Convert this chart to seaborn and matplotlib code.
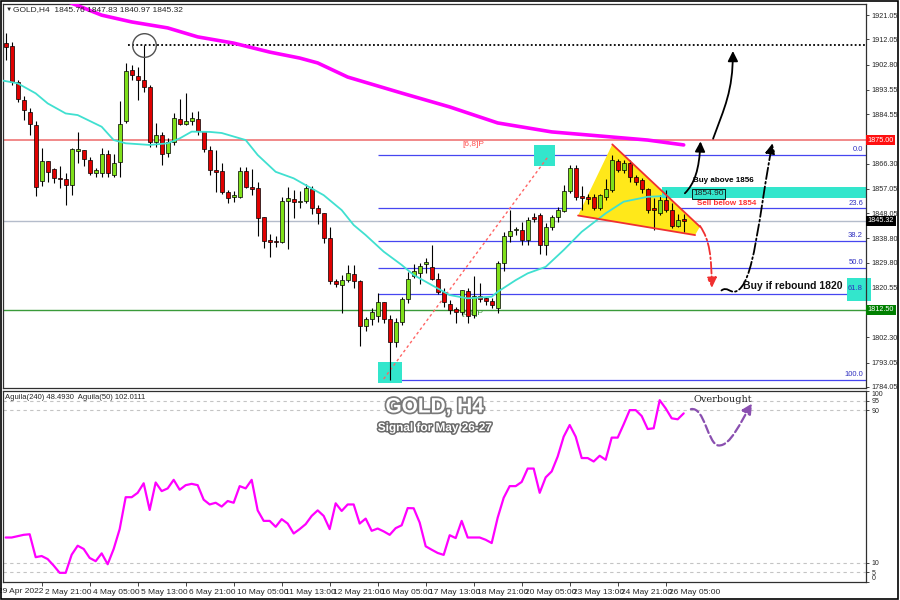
import numpy as np
import pandas as pd
import matplotlib
matplotlib.use("Agg")
import matplotlib.pyplot as plt
import matplotlib.patheffects as pe
import matplotlib.transforms as mtransforms
from matplotlib.patches import Polygon, Rectangle, FancyArrowPatch
from matplotlib.path import Path
import seaborn as sns

# --- свечи GOLD H4 (29 Apr - 26 May 2022) ---
opens = [
    1910.6, 1909.7, 1896.5, 1889.7, 1885.4, 1880.5, 1859.8, 1867.2, 1864.4, 1860.9,
    1860.5, 1858.4, 1870.8, 1871.4, 1867.6, 1862.7, 1862.7, 1869.7, 1862.2, 1866.8,
    1882.1, 1900.8, 1898.7, 1897.1, 1894.7, 1874.4, 1876.8, 1870.1, 1874.4, 1882.9,
    1880.8, 1882.1, 1882.8, 1878.3, 1871.3, 1864.0, 1863.6, 1856.0, 1854.2, 1854.1,
    1863.6, 1857.8, 1857.2, 1846.8, 1838.2, 1837.8, 1837.6, 1852.5, 1853.3, 1852.1,
    1852.5, 1856.9, 1850.1, 1848.0, 1839.0, 1823.1, 1821.6, 1823.4, 1825.6, 1823.1,
    1806.6, 1809.1, 1810.3, 1815.3, 1809.1, 1800.5, 1807.9, 1816.5, 1825.0, 1826.2,
    1829.5, 1828.3, 1824.0, 1819.1, 1814.5, 1812.6, 1811.5, 1819.5, 1810.6, 1817.7,
    1816.7, 1815.7, 1813.2, 1829.6, 1839.8, 1841.9, 1841.9, 1838.2, 1846.6, 1847.4,
    1836.4, 1843.1, 1846.5, 1849.0, 1856.3, 1864.6, 1854.4, 1854.0, 1854.1, 1849.8,
    1854.1, 1856.6, 1867.2, 1864.0, 1866.4, 1861.5, 1860.3, 1856.9, 1849.9, 1848.0,
    1853.1, 1849.2, 1843.4, 1845.76]
highs = [
    1914.4, 1911.2, 1897.1, 1891.3, 1886.7, 1882.0, 1871.9, 1867.3, 1864.7, 1865.3,
    1862.9, 1872.2, 1878.0, 1871.5, 1868.8, 1864.7, 1872.0, 1871.3, 1870.0, 1889.4,
    1903.3, 1902.6, 1902.0, 1910.0, 1895.3, 1881.2, 1878.0, 1875.7, 1884.8, 1890.0,
    1892.3, 1885.3, 1885.7, 1878.4, 1872.9, 1871.3, 1866.4, 1856.6, 1856.2, 1865.2,
    1865.2, 1864.3, 1859.7, 1846.8, 1840.3, 1839.7, 1854.1, 1857.8, 1856.6, 1856.2,
    1858.7, 1858.2, 1851.1, 1848.0, 1843.1, 1823.8, 1825.3, 1829.0, 1829.0, 1823.4,
    1809.9, 1813.0, 1818.5, 1815.3, 1810.6, 1809.4, 1817.3, 1826.5, 1829.3, 1829.6,
    1831.5, 1836.4, 1825.9, 1820.4, 1816.1, 1813.6, 1819.8, 1820.4, 1825.0, 1822.2,
    1817.3, 1816.7, 1830.5, 1841.2, 1849.2, 1843.1, 1844.9, 1846.7, 1848.0, 1848.0,
    1844.4, 1847.4, 1850.5, 1858.4, 1865.8, 1865.8, 1857.9, 1855.0, 1855.3, 1855.3,
    1860.8, 1869.5, 1868.2, 1867.6, 1867.6, 1862.2, 1860.9, 1857.2, 1853.5, 1854.7,
    1856.6, 1851.7, 1847.8, 1847.83]
lows = [
    1904.5, 1895.2, 1889.0, 1882.4, 1876.8, 1854.3, 1858.0, 1859.7, 1859.2, 1857.4,
    1851.0, 1854.8, 1866.4, 1865.3, 1862.1, 1861.5, 1861.5, 1861.5, 1861.5, 1861.5,
    1881.2, 1897.1, 1889.7, 1892.8, 1872.6, 1872.6, 1865.8, 1868.8, 1873.2, 1880.5,
    1880.5, 1880.5, 1876.8, 1870.7, 1862.1, 1856.0, 1855.0, 1851.7, 1852.3, 1853.5,
    1857.2, 1854.8, 1839.8, 1835.1, 1832.0, 1835.7, 1837.0, 1834.9, 1846.4, 1850.1,
    1851.7, 1847.6, 1844.0, 1836.9, 1821.9, 1821.0, 1811.2, 1822.8, 1820.4, 1799.3,
    1804.7, 1806.9, 1808.1, 1807.5, 1786.8, 1798.9, 1806.9, 1814.9, 1824.3, 1821.9,
    1826.0, 1823.4, 1818.2, 1813.6, 1810.8, 1807.7, 1810.6, 1807.5, 1809.4, 1815.5,
    1814.2, 1813.0, 1811.2, 1826.6, 1837.6, 1840.0, 1836.4, 1836.4, 1845.0, 1833.0,
    1832.7, 1842.0, 1844.7, 1848.6, 1855.4, 1852.9, 1849.2, 1851.5, 1849.2, 1849.2,
    1852.9, 1856.0, 1863.4, 1862.7, 1859.7, 1858.5, 1855.4, 1848.0, 1841.9, 1847.4,
    1848.6, 1842.5, 1842.9, 1840.97]
closes = [
    1909.4, 1896.2, 1890.1, 1886.0, 1880.8, 1857.8, 1867.2, 1863.4, 1860.9, 1860.6,
    1858.3, 1871.6, 1871.6, 1868.2, 1862.7, 1864.0, 1869.7, 1862.7, 1866.7, 1880.8,
    1900.4, 1899.0, 1897.1, 1894.7, 1874.4, 1876.8, 1869.7, 1874.1, 1883.0, 1880.8,
    1882.1, 1883.2, 1878.3, 1871.7, 1864.0, 1863.1, 1856.0, 1853.5, 1854.8, 1863.6,
    1857.6, 1857.1, 1846.4, 1837.8, 1837.4, 1837.4, 1852.5, 1853.5, 1852.1, 1852.6,
    1857.2, 1850.1, 1848.0, 1839.0, 1823.1, 1821.9, 1823.4, 1825.9, 1823.1, 1806.6,
    1809.1, 1811.8, 1815.3, 1809.1, 1800.5, 1807.9, 1816.5, 1824.0, 1826.7, 1828.7,
    1829.9, 1824.0, 1819.1, 1815.2, 1812.4, 1811.5, 1819.8, 1810.2, 1817.7, 1816.5,
    1815.7, 1814.2, 1829.6, 1839.8, 1841.5, 1842.2, 1838.2, 1845.5, 1845.9, 1836.4,
    1843.1, 1846.5, 1849.2, 1856.3, 1864.6, 1854.2, 1853.6, 1853.2, 1849.8, 1854.7,
    1856.8, 1867.6, 1864.0, 1866.4, 1861.5, 1859.7, 1856.9, 1849.2, 1849.2, 1852.9,
    1849.2, 1843.4, 1845.7, 1845.32]

# индикатор Aguila (нижняя панель)
aguila = [
    23.3, 23.3, 24.0, 24.7, 25.0, 13.0, 13.6, 12.0, 8.6, 4.8,
    4.8, 14.3, 19.0, 17.3, 12.6, 10.9, 15.0, 9.3, 17.3, 27.7,
    44.4, 44.4, 46.7, 51.7, 37.7, 52.1, 47.6, 49.0, 53.5, 48.3,
    50.7, 51.4, 50.7, 43.1, 40.6, 41.5, 39.5, 42.4, 41.5, 50.2,
    49.0, 53.5, 37.5, 32.0, 32.0, 28.9, 32.9, 30.6, 25.4, 27.7,
    30.3, 34.6, 37.5, 34.6, 27.7, 41.2, 37.2, 40.6, 40.6, 30.6,
    33.2, 26.8, 28.0, 26.5, 24.7, 28.2, 29.7, 38.7, 38.6, 31.1,
    18.7, 16.9, 15.2, 14.2, 24.5, 23.0, 32.0, 23.3, 23.3, 23.3,
    22.1, 20.4, 33.7, 44.1, 50.2, 50.2, 52.4, 59.4, 59.4, 46.7,
    54.8, 57.9, 65.7, 76.1, 82.2, 76.1, 64.9, 64.9, 63.1, 66.1,
    64.0, 75.6, 75.6, 82.6, 90.0, 90.0, 86.9, 80.1, 80.5, 95.2,
    90.9, 85.7, 85.2, 88.3]

# скользящие средние
ma200_bar = [6, 16, 21, 27, 32, 38, 44, 49, 52, 57, 66, 74, 82, 91, 99, 107, 113]
ma200_val = [1929.8, 1921.0, 1918.5, 1916.3, 1913.0, 1910.7, 1907.4, 1905.2, 1903.4,
             1898.2, 1892.3, 1887.2, 1881.3, 1878.0, 1876.5, 1875.0, 1873.2]
ma20_bar = [-1, 2, 5, 7, 10, 12, 16, 18, 20, 24, 27, 29, 31, 34, 36, 40, 42, 45, 48, 50,
            53, 56, 58, 60, 63, 66, 68, 71, 74, 77, 81, 82, 85, 87, 90, 93, 96, 100,
            103, 107, 110]
ma20_val = [1897.1, 1895.9, 1892.2, 1888.5, 1884.8, 1884.2, 1879.9, 1875.0, 1873.8,
            1873.2, 1873.8, 1875.6, 1878.1, 1878.0, 1877.6, 1875.0, 1869.5, 1863.3,
            1860.9, 1858.4, 1854.7, 1849.2, 1843.7, 1840.0, 1833.9, 1829.0, 1825.3,
            1821.6, 1817.9, 1816.7, 1817.3, 1819.1, 1823.4, 1825.9, 1828.3, 1834.5,
            1841.2, 1848.0, 1852.3, 1854.1, 1854.4]

# уровни
fib_names = ["0.0", "23.6", "38.2", "50.0", "61.8", "100.0"]
fib_prices = [1869.5, 1849.9, 1837.8, 1828.05, 1818.3, 1786.6]
resist_level = 1875.00
support_level = 1812.50
buy_box = (1853.6, 1857.7)

price_ticks = [1921.05, 1912.05, 1902.80, 1893.55, 1884.55, 1866.30, 1857.05,
               1848.05, 1838.80, 1829.80, 1820.55, 1802.30, 1793.05, 1784.05]
time_ticks = [6, 14, 22, 30, 38, 46, 54, 62, 70, 78, 86, 94, 102, 110]
time_labels = ["2 May 21:00", "4 May 05:00", "5 May 13:00", "6 May 21:00",
               "10 May 05:00", "11 May 13:00", "12 May 21:00", "16 May 05:00",
               "17 May 13:00", "18 May 21:00", "20 May 05:00", "23 May 13:00",
               "24 May 21:00", "26 May 05:00"]

df = pd.DataFrame({"open": opens, "high": highs, "low": lows, "close": closes,
                   "aguila": aguila})
df["bar"] = np.arange(len(df))

RED = "#E00000"
GREEN = "#7FE01A"
CYAN = "#33E6CC"
FIB = "#4646F0"

sns.set_style("white")
plt.rcParams["font.family"] = ["Liberation Sans", "DejaVu Sans"]

fig = plt.figure(figsize=(9, 6), dpi=100)
ax = fig.add_axes([0.0033, 0.3533, 0.9589, 0.64])
ax2 = fig.add_axes([0.0033, 0.03, 0.9589, 0.3183])
xmin, xmax = -0.45, 143.38

# --- верхняя панель ---
ax.set_xlim(xmin, xmax)
ax.set_ylim(1783.67, 1925.1)

ax.hlines(resist_level, xmin, xmax, colors="#F08080", lw=1.3, zorder=1)
ax.hlines(df["close"].iloc[-1], xmin, xmax, colors="#B4BCCB", lw=1.0, zorder=1)
ax.hlines(support_level, xmin, xmax, colors="#3A9A3A", lw=1.0, zorder=1)
ax.hlines(fib_prices, 62, xmax, colors=FIB, lw=0.9, zorder=1)
for name, p in zip(fib_names, fib_prices):
    ax.text(xmax - 0.5, p + 0.6, name, ha="right", va="bottom", fontsize=5.5,
            color="#3030C0", zorder=6)

swing_high = df["high"].iloc[23]
ax.hlines(swing_high, 20.4, xmax, colors="black", linestyles=(0, (1, 1.3)), lw=1.3, zorder=2)
ax.plot(23, swing_high, marker="o", ms=17, mfc="none", mec="#505050", mew=1.0, zorder=6)

# бирюзовые зоны
ax.add_patch(Rectangle((62.1, 1785.5), 4.0, 7.7, fc=CYAN, ec="none", zorder=2))
ax.add_patch(Rectangle((88.1, 1865.4), 3.5, 7.8, fc=CYAN, ec="none", zorder=2))
ax.add_patch(Rectangle((109.4, buy_box[0]), xmax - 109.4, buy_box[1] - buy_box[0],
                       fc=CYAN, ec="none", zorder=2))
ax.add_patch(Rectangle((140.2, 1815.7), 4.0, 8.5, fc=CYAN, ec="none", zorder=2,
                       clip_on=False))

# линия фибо-тренда
ax.plot([63, 90.5], [1787.0, 1869.2], color="#FF6464", ls=(0, (2, 2)), lw=1.0, zorder=2)

# вымпел
tri = [(95.4, 1847.2), (101.1, 1873.4), (115.7, 1843.1), (114.9, 1840.0)]
ax.add_patch(Polygon(tri, closed=True, fc="#FFE81A", ec="none", zorder=1.5))
ax.plot([101.1, 115.7], [1873.4, 1843.1], color="#F03030", lw=1.3, zorder=5)
ax.plot([95.4, 114.9], [1847.2, 1840.0], color="#F03030", lw=1.3, zorder=5)

# свечи
up = df["close"] >= df["open"]
ax.vlines(df["bar"], df["low"], df["high"], color="black", lw=0.8, zorder=3)
body_low = df[["open", "close"]].min(axis=1)
body_h = (df["close"] - df["open"]).abs().clip(lower=0.35)
ax.bar(df["bar"], body_h, bottom=body_low, width=0.64,
       color=np.where(up, GREEN, RED), edgecolor="black", linewidth=0.5, zorder=3.5)

# средние
sns.lineplot(x=ma200_bar, y=ma200_val, ax=ax, color="#FF00FF", linewidth=2.6, zorder=4)
sns.lineplot(x=ma20_bar, y=ma20_val, ax=ax, color="#40E0D0", linewidth=1.3, zorder=4)

ax.text(76.1, 1873.2, "[6,8]P", fontsize=6, color="#FF5050", va="center", zorder=6)
ax.text(76.0, 1811.3, "[6,8]P", fontsize=6, color="#3A9A3A", va="center", zorder=2.5)


def curve_arrow(a, pts, color, ls, lw=1.3):
    codes = [Path.MOVETO] + [Path.CURVE4] * (len(pts) - 1)
    arr = FancyArrowPatch(path=Path(pts, codes),
                          arrowstyle="-|>,head_length=0.6,head_width=0.3",
                          mutation_scale=10, color=color, lw=lw, linestyle=ls,
                          zorder=7, clip_on=False)
    a.add_patch(arr)


curve_arrow(ax, [(113.2, 1855.4), (114.8, 1859.0), (115.6, 1864.0), (115.8, 1874.5)],
            "black", "-")
curve_arrow(ax, [(117.9, 1875.5), (119.8, 1887.0), (121.2, 1893.0), (121.2, 1907.8)],
            "black", "-")
curve_arrow(ax, [(119.3, 1819.6), (120.2, 1821.2), (120.8, 1818.6), (121.6, 1819.2),
                 (124.8, 1821.0), (125.5, 1848.0), (127.8, 1873.8)], "black", "-.")
curve_arrow(ax, [(115.7, 1843.4), (117.4, 1838.0), (117.6, 1832.0), (117.7, 1820.6)],
            "#F03030", "-.")

ax.text(114.6, 1858.8, "Buy above 1856", fontsize=5.8, fontweight="bold", va="bottom",
        color="black", zorder=8)
ax.text(114.6, 1855.2, "1854.90", fontsize=6, va="center", color="#202020", zorder=8,
        bbox=dict(boxstyle="square,pad=0.15", fc=CYAN, ec="black", lw=0.6))
ax.text(115.3, 1851.6, "Sell below 1854", fontsize=5.8, fontweight="bold", va="center",
        color="#FF3030", zorder=8)
ax.text(122.9, 1821.3, "Buy if rebound 1820", fontsize=7.5, fontweight="bold",
        va="center", color="#111111", zorder=8)

ax.text(0.003, 0.993, "\u25BC", transform=ax.transAxes, fontsize=4.5, va="top")
ax.text(0.012, 0.995, "GOLD,H4  1845.76 1847.83 1840.97 1845.32",
        transform=ax.transAxes, fontsize=6, va="top", zorder=8)

ax.set_xticks([])
ax.yaxis.tick_right()
ax.set_yticks(price_ticks)
ax.set_yticklabels([f"{p:.2f}" for p in price_ticks])
ax.tick_params(axis="y", length=2.5, width=0.6, pad=1.5, labelsize=5.2, right=True)
ax.set_xlabel("")
ax.set_ylabel("")


def price_tag(a, y, text, fc):
    a.text(1.002, y, text, transform=a.get_yaxis_transform(), ha="left", va="center",
           fontsize=5.2, color="white", zorder=10, clip_on=False,
           bbox=dict(boxstyle="square,pad=0.2", fc=fc, ec="none"))


price_tag(ax, resist_level, "1875.00", "#FF1010")
price_tag(ax, df["close"].iloc[-1], "1845.32", "black")
price_tag(ax, support_level, "1812.50", "#008000")

# --- нижняя панель ---
ax2.set_xlim(xmin, xmax)
ax2.set_ylim(0, 100)
for lvl in [95, 90, 10, 5]:
    ax2.axhline(lvl, color="#C4C4C4", ls=(0, (3, 3)), lw=0.8, zorder=1)
sns.lineplot(data=df, x="bar", y="aguila", ax=ax2, color="#FF00FF", linewidth=1.6,
             zorder=3)
curve_arrow(ax2, [(114.2, 90.5), (116.5, 92.0), (117.0, 72.0), (118.8, 71.5),
                  (120.8, 71.0), (122.5, 84.0), (124.4, 93.5)], "#8A4FB0", "--", lw=1.6)
ax2.text(119.6, 95.5, "Overbought", fontsize=7, family="DejaVu Serif", ha="center",
         va="center", zorder=8)
ax2.text(0.002, 0.985, "Aguila(240) 48.4930  Aguila(50) 102.0111",
         transform=ax2.transAxes, fontsize=5.5, va="top")

ax2.yaxis.tick_right()
ax2.set_yticks([100, 95, 90, 10, 5, 0])
ax2.set_yticklabels(["100", "95", "90", "10", "5", "0"])
ax2.tick_params(axis="y", length=2.5, width=0.6, pad=1.5, labelsize=5, right=True)
ylbls = ax2.get_yticklabels()
ylbls[0].set_verticalalignment("top")
ylbls[-1].set_verticalalignment("bottom")

ax2.set_xticks(time_ticks)
ax2.set_xticklabels(time_labels)
ax2.tick_params(axis="x", length=3, width=0.6, pad=2, labelsize=6, bottom=True)
offset = mtransforms.ScaledTranslation(3 / 100, 0, fig.dpi_scale_trans)
for lbl in ax2.get_xticklabels():
    lbl.set_horizontalalignment("left")
    lbl.set_transform(lbl.get_transform() + offset)
ax2.text(-1.3, -0.03, "29 Apr 2022", transform=ax2.get_xaxis_transform(), fontsize=6,
         ha="left", va="top")
ax2.set_xlabel("")
ax2.set_ylabel("")

for a in (ax, ax2):
    for s in a.spines.values():
        s.set_color("#303030")
        s.set_linewidth(0.9)

# заголовок
stroke = [pe.withStroke(linewidth=2.5, foreground="#7A7A7A")]
fig.text(0.483, 0.3217, "GOLD, H4", fontsize=15, fontweight="bold", color="white",
         ha="center", va="center", path_effects=stroke)
fig.text(0.483, 0.2867, "Signal for May 26-27", fontsize=8.5, fontweight="bold",
         color="white", ha="center", va="center",
         path_effects=[pe.withStroke(linewidth=2.2, foreground="#6A6A6A")])

fig.patches.append(Rectangle((0.001, 0.002), 0.997, 0.996, transform=fig.transFigure,
                             fill=False, ec="black", lw=1.2))

fig.savefig("out.png", dpi=100, facecolor="white")
